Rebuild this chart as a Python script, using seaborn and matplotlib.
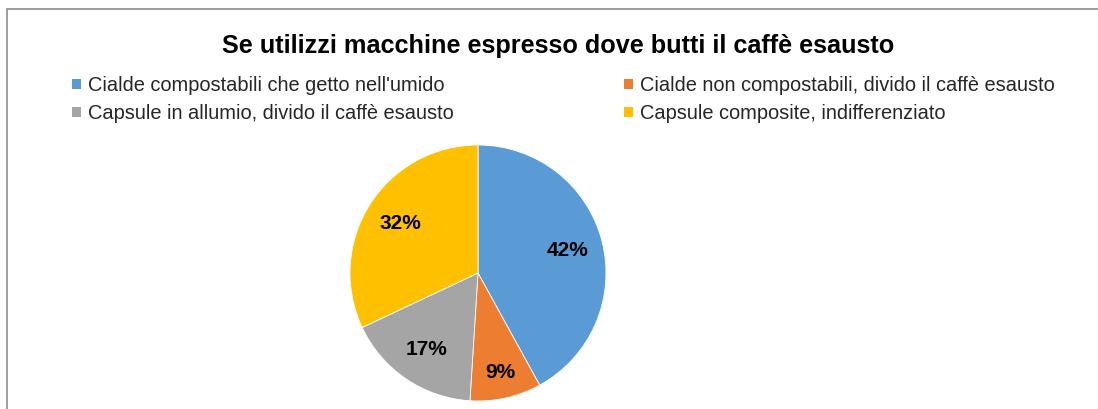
import matplotlib
matplotlib.use("Agg")
import numpy as np
import matplotlib.pyplot as plt
from matplotlib.patches import Patch, Rectangle
import seaborn as sns

# Survey data: where spent espresso coffee goes
categories = [
    "Cialde compostabili che getto nell'umido",
    "Cialde non compostabili, divido il caffè esausto",
    "Capsule in allumio, divido il caffè esausto",
    "Capsule composite, indifferenziato",
]
shares = [42, 9, 17, 32]
colors = ["#5B9BD5", "#ED7D31", "#A5A5A5", "#FFC000"]
title = "Se utilizzi macchine espresso dove butti il caffè esausto"

sns.set_theme(style="white")
plt.rcParams["font.family"] = ["Liberation Sans", "DejaVu Sans"]

W, H = 1098, 409
fig = plt.figure(figsize=(W / 100, H / 100), dpi=100)
fig.patch.set_facecolor("white")

# Chart frame (left and top edges visible)
fig.add_artist(Rectangle((7 / W, -0.1), 1.2, (H - 9) / H + 0.1,
                         transform=fig.transFigure, fill=False,
                         edgecolor="#8c8c8c", linewidth=1.2, clip_on=False))

# Pie axes: centre and radius in pixels
cx, cy, r = 478, 273, 128
ax = fig.add_axes([(cx - r) / W, (H - cy - r) / H, 2 * r / W, 2 * r / H])
wedges, texts, autotexts = ax.pie(
    shares, colors=colors, startangle=90, counterclock=False,
    autopct=lambda p: f"{p:.0f}%", pctdistance=0.72,
    wedgeprops=dict(linewidth=0.6, edgecolor="white"),
    textprops=dict(fontsize=15, fontweight="bold", color="black"),
)
# Push the small slice's label a bit further out
label_dist = [0.72, 0.80, 0.72, 0.72]
for w, t, d in zip(wedges, autotexts, label_dist):
    ang = np.deg2rad((w.theta1 + w.theta2) / 2)
    t.set_position((d * np.cos(ang), d * np.sin(ang)))
ax.set_xlim(-1, 1)
ax.set_ylim(-1, 1)
ax.set_aspect("equal")

fig.text(558 / W, 1 - 46 / H, title, ha="center", va="center",
         fontsize=18.2, fontweight="bold", color="black")

# Legend: two columns, row-major reading order
order = [0, 2, 1, 3]
handles = [Patch(facecolor=colors[i], edgecolor="none") for i in order]
labels = [categories[i] for i in order]
fig.legend(handles, labels, ncol=2, loc="upper left",
           bbox_to_anchor=(72 / W, 1 - 76 / H), frameon=False,
           fontsize=14.4, handlelength=0.45, handleheight=0.45,
           handletextpad=0.35, columnspacing=8.5, labelspacing=0.45,
           borderpad=0, borderaxespad=0)

fig.savefig("out.png", dpi=100)
